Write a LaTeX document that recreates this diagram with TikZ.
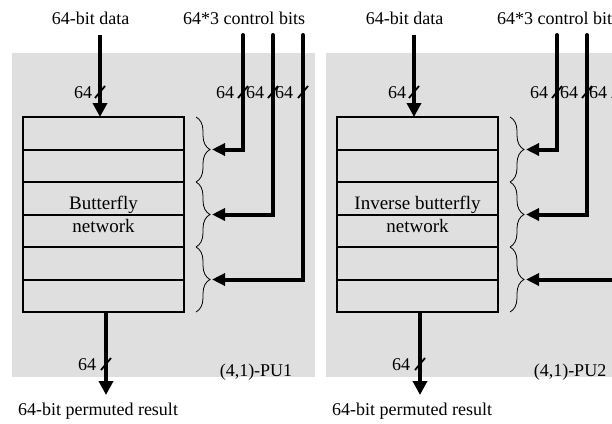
\documentclass[tikz,border=0pt]{standalone}
\usepackage{fontspec}
\setmainfont{Liberation Serif}
\usetikzlibrary{arrows.meta}
\usetikzlibrary{positioning}
\usetikzlibrary{calc}
\usetikzlibrary{decorations.pathreplacing}

\begin{document}
\begin{tikzpicture}[x=1pt,y=-1pt]
   \tikzset{Panel/.style={fill=black!12.5,draw=none}}
   \tikzset{Row/.style={draw,line width=2pt,minimum width=161pt,minimum height=32.5pt,inner sep=0pt,outer sep=0pt}}
   \tikzset{Bus/.style={line width=4.5pt,-{Triangle[length=14pt,width=14pt]}}}
   \tikzset{Ctrl/.style={line width=4pt,line cap=round,-{Triangle[length=13pt,width=12pt]}}}
   \tikzset{Slash/.style={line width=1.8pt}}
   \tikzset{Brace/.style={decorate,decoration={brace,amplitude=14pt},line width=0.8pt}}
   \tikzset{Lbl/.style={font=\fontsize{18}{20}\selectfont,inner sep=0pt}}
   \tikzset{BoxText/.style={font=\fontsize{19}{23}\selectfont,align=center,inner sep=0pt}}
   \useasboundingbox (0,0) rectangle (612,423);
   \clip (0,0) rectangle (612,423);
   \foreach \p/\dx/\name in {1/0/{Butterfly\\network},2/314/{Inverse butterfly\\network}} {
      \fill[Panel] (12+\dx,53) rectangle (315+\dx,377);
      % network stages
      \node[Row] (r\p-1) at (103.5+\dx,133.25) {};
      \node[Row,below=0pt of r\p-1] (r\p-2) {};
      \node[Row,below=0pt of r\p-2] (r\p-3) {};
      \node[Row,below=0pt of r\p-3] (r\p-4) {};
      \node[Row,below=0pt of r\p-4] (r\p-5) {};
      \node[Row,below=0pt of r\p-5] (r\p-6) {};
      \node[BoxText] (net\p) at (r\p-3.south) {\name};
      % data in and out
      \node[Lbl] (din-lbl\p) at (90.5+\dx,18) {64-bit data};
      \coordinate (din\p) at (100+\dx,35);
      \draw[Bus] (din\p) -- (din\p |- r\p-1.north);
      \draw[Slash] (95+\dx,98) -- ++(10,-12);
      \node[Lbl] (din-w\p) at (83+\dx,93) {64};
      \coordinate (dout\p) at (106+\dx,395);
      \draw[Bus] (dout\p |- r\p-6.south) -- (dout\p);
      \draw[Slash] (101+\dx,370) -- ++(10,-12);
      \node[Lbl] (dout-w\p) at (87+\dx,365) {64};
      \node[Lbl] (dout-lbl\p) at (98+\dx,411) {64-bit permuted result};
      \node[Lbl] (pu\p) at (256+\dx,372) {(4,1)-PU\p};
      % control bits
      \node[Lbl] (ctl-lbl\p) at (244+\dx,18) {64*3 control bits};
      \coordinate (c\p-1) at (243+\dx,35);
      \coordinate (c\p-2) at (273+\dx,35);
      \coordinate (c\p-3) at (303+\dx,35);
      \draw[Brace] ($(r\p-1.north east)+(12,0)$) -- ($(r\p-2.south east)+(12,0)$);
      \draw[Brace] ($(r\p-3.north east)+(12,0)$) -- ($(r\p-4.south east)+(12,0)$);
      \draw[Brace] ($(r\p-5.north east)+(12,0)$) -- ($(r\p-6.south east)+(12,0)$);
      \draw[Ctrl] (c\p-1) |- ($(r\p-1.south east)+(28,0)$);
      \draw[Ctrl] (c\p-2) |- ($(r\p-3.south east)+(28,0)$);
      \draw[Ctrl] (c\p-3) |- ($(r\p-5.south east)+(28,0)$);
      \draw[Slash] (238+\dx,98) -- ++(10,-12);
      \draw[Slash] (268+\dx,98) -- ++(10,-12);
      \draw[Slash] (298+\dx,98) -- ++(10,-12);
      \node[Lbl] (cw\p-1) at (225+\dx,93) {64};
      \node[Lbl] (cw\p-2) at (255+\dx,93) {64};
      \node[Lbl] (cw\p-3) at (284+\dx,93) {64};
   }
\end{tikzpicture}
\end{document}
